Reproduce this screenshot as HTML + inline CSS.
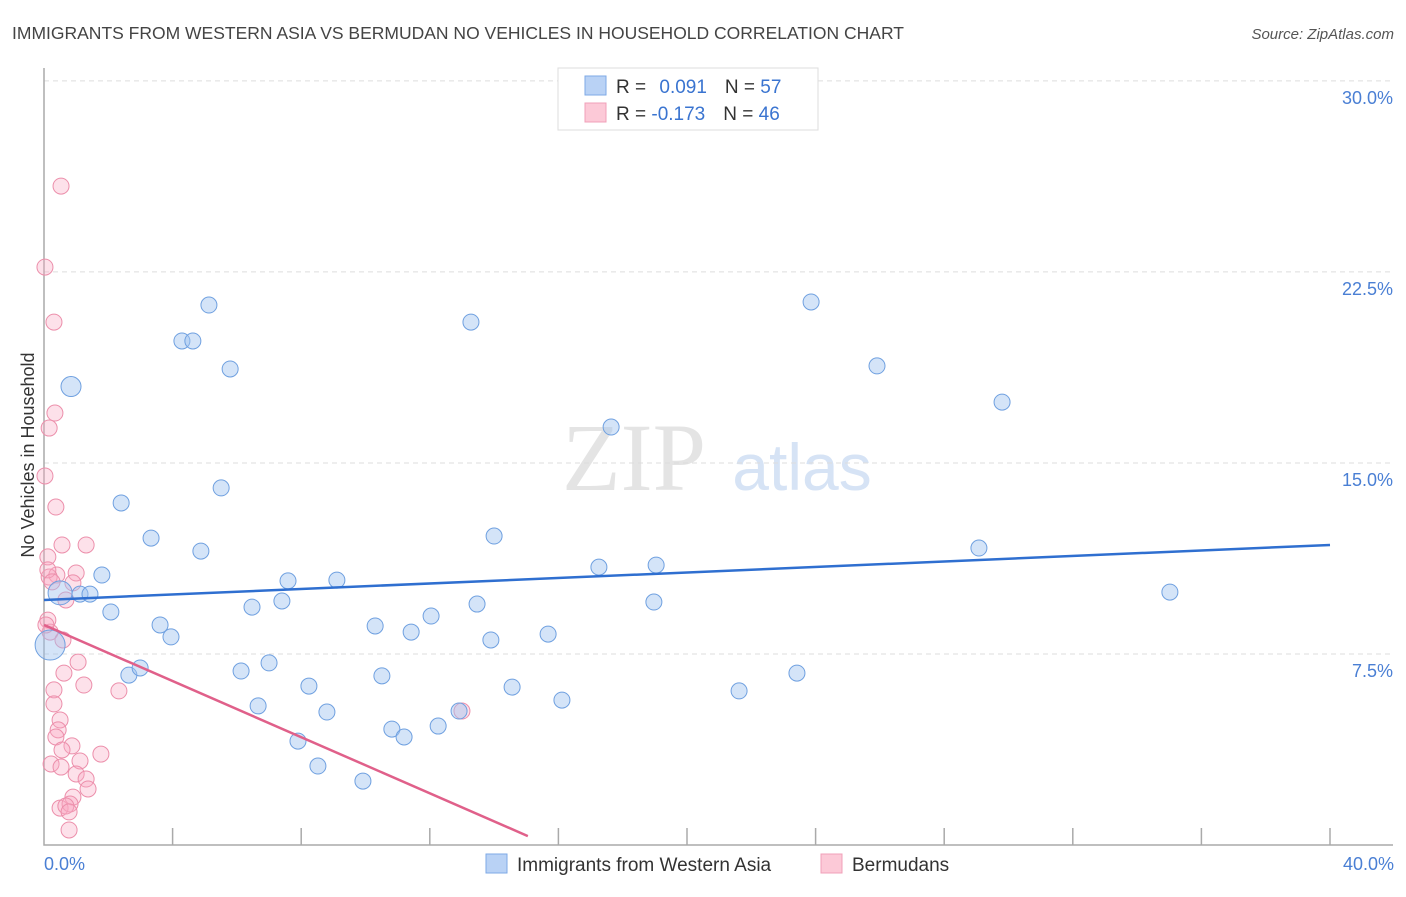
<!DOCTYPE html>
<html><head><meta charset="utf-8"><style>
body{margin:0;background:#fff;font-family:"Liberation Sans",sans-serif}
svg text{font-family:"Liberation Sans",sans-serif}
</style></head><body>
<svg id="c" width="1406" height="892" xmlns="http://www.w3.org/2000/svg">
<text x="12" y="39" font-size="17.5" fill="#444">IMMIGRANTS FROM WESTERN ASIA VS BERMUDAN NO VEHICLES IN HOUSEHOLD CORRELATION CHART</text>
<text x="1394" y="39" font-size="15" fill="#555" font-style="italic" text-anchor="end">Source: ZipAtlas.com</text>
<text x="634" y="490" font-size="96" fill="#e4e4e4" font-family="Liberation Serif" text-anchor="middle" style="font-family:'Liberation Serif',serif">ZIP</text>
<text x="802" y="490" font-size="66" fill="#d6e3f5" text-anchor="middle">atlas</text>
<g id="grid"></g><g id="axes"></g><g id="pts"></g><g id="lines"></g>
<text transform="translate(34,455) rotate(-90)" font-size="18" fill="#333" text-anchor="middle">No Vehicles in Household</text>
<text x="44" y="870" font-size="18" fill="#4a7fd4">0.0%</text>
<text x="1394" y="870" font-size="18" fill="#4a7fd4" text-anchor="end">40.0%</text>
<g>
<rect x="558" y="68" width="260" height="62" fill="#fff" stroke="#ddd"/>
<rect x="585" y="76" width="21" height="19" fill="#b9d2f5" stroke="#7ea9e6"/>
<rect x="585" y="103" width="21" height="19" fill="#fcc9d7" stroke="#f0a0b8"/>
<text x="616" y="93" font-size="19" fill="#333">R = <tspan fill="#3a74d0" dx="8">0.091</tspan><tspan dx="18" fill="#333">N = </tspan><tspan fill="#3a74d0">57</tspan></text>
<text x="616" y="120" font-size="19" fill="#333">R = <tspan fill="#3a74d0">-0.173</tspan><tspan dx="18" fill="#333">N = </tspan><tspan fill="#3a74d0">46</tspan></text>
</g>
<g>
<rect x="486" y="854" width="21" height="19" fill="#b9d2f5" stroke="#7ea9e6"/>
<text x="517" y="871" font-size="19" fill="#333">Immigrants from Western Asia</text>
<rect x="821" y="854" width="21" height="19" fill="#fcc9d7" stroke="#f0a0b8"/>
<text x="852" y="871" font-size="19" fill="#333">Bermudans</text>
</g>
</svg>
<script>
const yTicks=[7.5,15,22.5,30];
const yTickLabels=["7.5%","15.0%","22.5%","30.0%"];
const xTicks=[4,8,12,16,20,24,28,32,36,40];
const blueX=[0.84,0.5,0.19,1.8,1.12,1.43,2.08,2.4,3.33,3.61,3.95,2.64,2.99,4.29,4.63,5.13,5.79,4.88,5.51,6.47,6.13,6.66,7.0,7.59,7.4,8.24,7.9,8.52,8.8,9.11,9.92,10.3,10.51,10.82,11.2,11.42,12.04,12.26,12.91,13.28,13.47,13.9,14.0,14.56,15.68,16.11,17.26,17.64,18.97,19.04,21.62,23.42,23.86,25.91,29.08,29.8,35.02];
const blueY=[18.0,9.9,7.85,10.6,9.85,9.85,9.15,13.43,12.05,8.64,8.17,6.67,6.95,19.79,19.79,21.2,18.69,11.54,14.02,9.34,6.83,5.46,7.15,10.37,9.58,6.24,4.08,3.1,5.22,10.4,2.51,8.6,6.64,4.55,4.24,8.36,8.99,4.67,5.26,20.53,9.46,8.05,12.13,6.2,8.28,5.69,10.91,16.41,9.54,10.99,6.05,6.75,21.32,18.81,11.66,17.39,9.93];
const blueSize=[10,12,15];
const pinkX=[0.53,0.03,0.31,0.34,0.16,0.03,0.37,0.56,1.31,0.12,0.4,1.0,0.16,0.9,0.12,0.19,0.59,1.06,0.62,0.31,1.24,2.33,0.31,0.5,0.44,0.37,0.87,0.56,1.77,0.22,1.12,0.53,1.0,1.31,1.37,0.9,0.5,0.81,0.68,0.78,0.78,13.0,0.12,0.06,0.25,0.68];
const pinkY=[25.87,22.69,20.53,16.96,16.37,14.49,13.27,11.78,11.78,11.31,10.6,10.68,10.52,10.29,8.83,8.36,8.05,7.18,6.75,6.09,6.28,6.05,5.54,4.91,4.52,4.24,3.89,3.73,3.57,3.18,3.3,3.06,2.79,2.59,2.2,1.88,1.45,1.61,1.53,1.3,0.59,5.26,10.8,8.64,10.33,9.62];
const blueTrend=[[0,9.62],[40,11.78]];
const pinkTrend=[[0,8.64],[15.05,0.35]];
const NS="http://www.w3.org/2000/svg";
const X=v=>44+v*32.15, Y=v=>845-v*25.47;
function mk(t,a,p){const e=document.createElementNS(NS,t);for(const k in a)e.setAttribute(k,a[k]);document.getElementById(p).appendChild(e);return e;}
yTicks.forEach((t,i)=>{
 const l=mk('line',{x1:44,x2:1393,y1:Y(t),y2:Y(t),stroke:'#ddd','stroke-dasharray':'5,4'},'grid');
 
 
 const tx=mk('text',{x:1393,y:Y(t)+23,'font-size':18,fill:'#4a7fd4','text-anchor':'end'},'grid');
 tx.textContent=yTickLabels[i];
 
 
});
const ax=mk('path',{d:'M44,68V845H1393',fill:'none',stroke:'#aaa','stroke-width':1.5},'axes');


xTicks.forEach(t=>{
 const l=mk('line',{x1:X(t),x2:X(t),y1:828,y2:845,stroke:'#aaa','stroke-width':1.5},'axes');
 
 
});
pinkX.forEach((v,i)=>{
 const c=mk('circle',{cx:X(v),cy:Y(pinkY[i]),r:8,fill:'rgba(248,170,195,0.35)',stroke:'#ec8fab','stroke-width':1},'pts');
 
 
});
blueX.forEach((v,i)=>{
 const c=mk('circle',{cx:X(v),cy:Y(blueY[i]),r:blueSize[i]||8,fill:'rgba(160,196,240,0.45)',stroke:'#6fa0e0','stroke-width':1},'pts');
 
 
});
const bl=mk('line',{x1:X(blueTrend[0][0]),y1:Y(blueTrend[0][1]),x2:X(blueTrend[1][0]),y2:Y(blueTrend[1][1]),stroke:'#2f6fd0','stroke-width':2.5},'lines');


const pl=mk('line',{x1:X(pinkTrend[0][0]),y1:Y(pinkTrend[0][1]),x2:X(pinkTrend[1][0]),y2:Y(pinkTrend[1][1]),stroke:'#e0608a','stroke-width':2.5},'lines');


</script>
</body></html>
